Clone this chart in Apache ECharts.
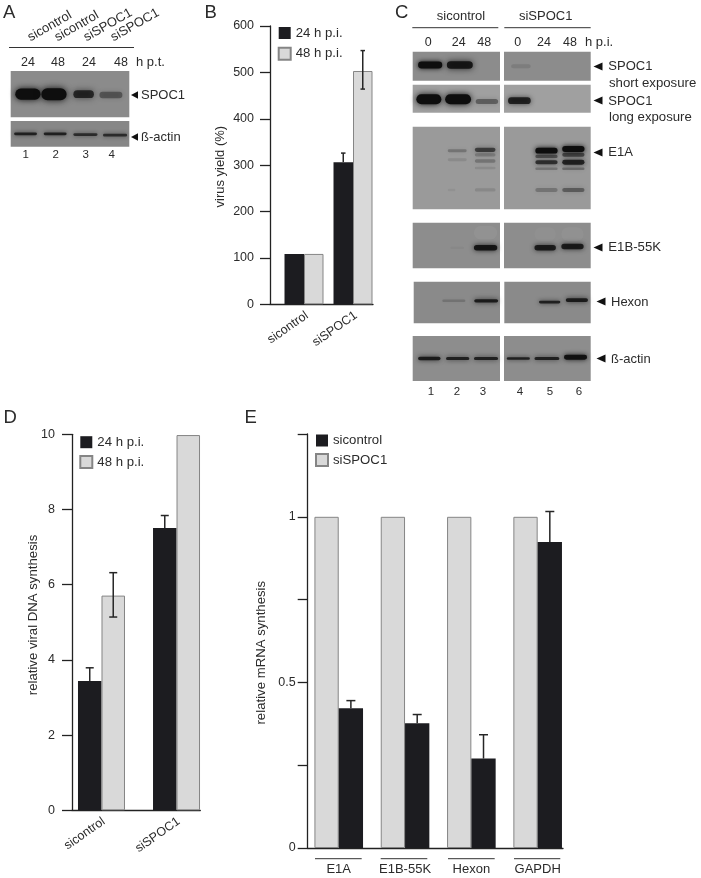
<!DOCTYPE html>
<html>
<head>
<meta charset="utf-8">
<style>html,body{margin:0;background:#fff}#main{width:701px;height:878px}</style>
<script src="https://cdn.jsdelivr.net/npm/echarts@6/dist/echarts.min.js"></script>
</head>
<body>
<div id="main"></div>
<script>
// panel B
const virusGroups = ["sicontrol", "siSPOC1"];
const virus24 = [108.6, 306.5];
const virus48 = [108.6, 503];
const virus24Err = [[2, 306.5, 326, 0]];
const virus48Err = [[2, 464, 547, 1]];

// panel D
const dnaGroups = ["sicontrol", "siSPOC1"];
const dna24 = [3.44, 7.51];
const dna48 = [5.71, 9.98];
const dna24Err = [[1, 3.44, 3.79, 0], [2, 7.51, 7.84, 0]];
const dna48Err = [[1, 5.14, 6.32, 1]];

// panel E
const mrnaGroups = ["E1A", "E1B-55K", "Hexon", "GAPDH"];
const mrnaSiSpoc = [1, 1, 1, 1];
const mrnaSicontrol = [0.422, 0.377, 0.27, 0.924];
const mrnaErr = [[1, 0.422, 0.445, 0], [2, 0.377, 0.403, 0], [3, 0.27, 0.342, 0], [4, 0.924, 1.016, 0]];

// blot bands: [x start %, x end %, y %, thickness %, darkness] (negative = paler smear)
const blotA1 = [[3, 26, 50, 24, 1], [25, 48, 50, 26, 1], [52, 71, 50, 17, 0.75], [74, 95, 52, 14, 0.4]];
const blotA2 = [[2, 23, 50, 11, 0.8], [27, 48, 50, 11, 0.8], [52, 74, 53, 11, 0.7], [77, 99, 55, 10, 0.7]];
const blotShortL = [[5, 35, 46, 24, 1], [38, 70, 46, 26, 0.9]];
const blotShortR = [[7, 32, 50, 14, 0.1]];
const blotLongL = [[3, 34, 52, 36, 1], [36, 68, 52, 36, 1], [71, 99, 60, 18, 0.4]];
const blotLongR = [[3.5, 32, 57, 24, 0.8]];
const blotE1aL = [[39, 63, 29, 3.6, 0.25], [39, 63, 40, 3.6, 0.1], [70, 96, 28, 5, 0.6], [70, 96, 34, 4, 0.2],
  [70, 96, 41.5, 4, 0.25], [70, 96, 50, 3, 0.1], [70, 96, 76.6, 4, 0.12], [39, 50, 76.6, 3, 0.06]];
const blotE1aR = [[35, 63, 29, 7, 1], [35, 63, 36, 4, 0.45], [35, 63, 43, 5, 0.7], [35, 63, 51, 3, 0.25], [35, 63, 76.6, 5, 0.25],
  [66, 94, 27, 7, 1], [66, 94, 34, 5, 0.55], [66, 94, 43, 6, 0.8], [66, 94, 51, 3, 0.3], [66, 94, 76.6, 5, 0.4]];
const blotE1bL = [[69, 98, 22, 30, -0.05], [42, 60, 55, 5, 0.04], [69, 98, 55, 12, 0.9]];
const blotE1bR = [[34, 61, 25, 30, -0.03], [65, 93, 25, 30, -0.04], [34, 61, 55, 12, 0.85], [65, 93, 52, 12, 0.85]];
const blotHexonL = [[32, 61, 46, 6, 0.18], [69, 99, 46, 8, 0.85]];
const blotHexonR = [[39, 66, 49, 7, 0.8], [70, 98, 44, 9, 0.85]];
const blotActinL = [[5, 33, 50, 8, 0.85], [37, 66, 50, 7, 0.8], [69, 99, 50, 7, 0.8]];
const blotActinR = [[2, 31, 50, 6, 0.8], [34, 65, 50, 7, 0.8], [68, 97, 47, 11, 0.95]];

const FONT = '"Liberation Sans", Arial, sans-serif';
const INK = "#2b2b2b";
const DARK = "#1c1c20";
const LIGHT = "#d9d9d9";
const EDGE = "#858585";

const grid = [], xAxis = [], yAxis = [], series = [], graphic = [];

function addBlot(left, top, width, height, bg, bands) {
  const i = grid.length;
  grid.push({ left, top, width, height, show: true, backgroundColor: bg, borderWidth: 0 });
  xAxis.push({ type: "value", gridIndex: i, min: 0, max: 100, show: false });
  yAxis.push({ type: "value", gridIndex: i, min: 0, max: 100, inverse: true, show: false });
  series.push({
    type: "custom", xAxisIndex: i, yAxisIndex: i, silent: true, data: bands,
    renderItem(params, api) {
      const a = api.coord([api.value(0), api.value(2)]);
      const b = api.coord([api.value(1), api.value(2)]);
      const h = api.size([0, api.value(3)])[1];
      const d = api.value(4);
      const fill = d < 0 ? `rgba(255,255,255,${-d})` : `rgba(14,14,14,${d})`;
      return {
        type: "rect",
        shape: { x: a[0] + 1, y: a[1] - h / 2, width: b[0] - a[0] - 2, height: h, r: h / 2 },
        style: { fill, shadowBlur: d < 0 ? 10 : 4 + h * 0.25, shadowColor: fill }
      };
    }
  });
}

function errorSeries(i, rows, side, barWidth, cap) {
  return {
    type: "custom", xAxisIndex: i, yAxisIndex: i, silent: true, z: 5, data: rows,
    renderItem(params, api) {
      const lo = api.coord([api.value(0), api.value(1)]);
      const hi = api.coord([api.value(0), api.value(2)]);
      const x = lo[0] + side * barWidth / 2;
      const style = { stroke: "#262626", lineWidth: 1.5, fill: null };
      const children = [
        { type: "line", shape: { x1: x, y1: lo[1], x2: x, y2: hi[1] }, style },
        { type: "line", shape: { x1: x - cap / 2, y1: hi[1], x2: x + cap / 2, y2: hi[1] }, style }
      ];
      if (api.value(3)) children.push({ type: "line", shape: { x1: x - cap / 2, y1: lo[1], x2: x + cap / 2, y2: lo[1] }, style });
      return { type: "group", children };
    }
  };
}

function barChart(o) {
  const i = grid.length;
  const shift = o.labelShift || 0;
  const slots = o.groups.map((g, k) => k + 1 + shift);
  grid.push({ left: o.left, top: o.top, width: o.width, height: o.height });
  xAxis.push({
    type: "value", gridIndex: i, min: o.xMin, max: o.xMax, position: "bottom",
    axisLine: { show: true, onZero: false, lineStyle: { color: "#222", width: 1.3 } },
    axisTick: { show: false }, splitLine: { show: false },
    axisLabel: {
      customValues: slots, rotate: o.rotate || 0, margin: o.xMargin, fontFamily: FONT, fontSize: o.rotate ? 12.5 : 13, color: INK,
      formatter: v => o.groups[Math.round(v - shift) - 1]
    }
  });
  yAxis.push({
    type: "value", gridIndex: i, min: 0, max: o.yMax, interval: o.yStep, position: "left",
    axisLine: { show: true, onZero: false, lineStyle: { color: "#222", width: 1.3 } },
    axisTick: { show: true, length: 10, lineStyle: { color: "#222", width: 1.3 } },
    splitLine: { show: false },
    axisLabel: { margin: o.yMargin, fontFamily: FONT, fontSize: 12.5, color: INK, customValues: o.yLabels }
  });
  o.bars.forEach(b => {
    series.push({
      type: "bar", name: b.name, xAxisIndex: i, yAxisIndex: i, barWidth: o.barWidth, barGap: "0%",
      data: b.values.map((v, k) => [k + 1, v]),
      itemStyle: b.dark ? { color: DARK } : { color: LIGHT, borderColor: EDGE, borderWidth: 1 }
    });
    if (b.err) series.push(errorSeries(i, b.err, b.side, o.barWidth, b.cap));
  });
}

function text(x, y, str, size, extra) {
  graphic.push(Object.assign({
    type: "text", x, y, silent: true,
    style: Object.assign({ text: str, fontFamily: FONT, fontSize: size, fill: INK, verticalAlign: "middle", align: "left" }, extra && extra.style)
  }, extra && extra.el));
}
function centered(x, y, str, size) { text(x, y, str, size, { style: { align: "center" } }); }
function rule(x1, x2, y) {
  graphic.push({ type: "line", silent: true, shape: { x1, y1: y, x2, y2: y }, style: { stroke: "#333", lineWidth: 1 } });
}
function arrow(x, y, w, h) {
  graphic.push({ type: "polygon", silent: true, shape: { points: [[x, y], [x + w, y - h / 2], [x + w, y + h / 2]] }, style: { fill: "#111" } });
}

// blots, panel A
addBlot(10.7, 71, 118.6, 46.3, "#8b8b8b", blotA1);
addBlot(10.7, 121, 118.6, 25.7, "#878787", blotA2);
// blots, panel C
addBlot(412.7, 51.7, 87.3, 29, "#8c8c8c", blotShortL);
addBlot(504, 51.7, 86.7, 29, "#8c8c8c", blotShortR);
addBlot(412.7, 84.7, 87.3, 28, "#a0a0a0", blotLongL);
addBlot(504, 84.7, 86.7, 28, "#a0a0a0", blotLongR);
addBlot(412.7, 126.7, 87.3, 82.6, "#9a9a9a", blotE1aL);
addBlot(504, 126.7, 86.7, 82.6, "#9a9a9a", blotE1aR);
addBlot(412.7, 222.7, 87.3, 45.6, "#8d8d8d", blotE1bL);
addBlot(504, 222.7, 86.7, 45.6, "#8d8d8d", blotE1bR);
addBlot(413.7, 281.7, 86.3, 41.6, "#8a8a8a", blotHexonL);
addBlot(504.3, 281.7, 86.4, 41.6, "#8a8a8a", blotHexonR);
addBlot(412.7, 336, 87.3, 45, "#8d8d8d", blotActinL);
addBlot(504, 336, 86.7, 45, "#8d8d8d", blotActinR);

barChart({
  left: 270, top: 26, width: 103, height: 278.3, xMin: 0.306, xMax: 2.408, yMax: 600, yStep: 100,
  groups: virusGroups, barWidth: 19.5, rotate: 35, xMargin: 10, yMargin: 16, labelShift: 0.06,
  bars: [
    { name: "24 h p.i.", values: virus24, dark: true, err: virus24Err, side: -1, cap: 4.5 },
    { name: "48 h p.i.", values: virus48, err: virus48Err, side: 1, cap: 4.5 }
  ]
});
barChart({
  left: 72, top: 434.3, width: 128.3, height: 376, xMin: 0.607, xMax: 2.317, yMax: 10, yStep: 2,
  groups: dnaGroups, barWidth: 23.5, rotate: 35, xMargin: 10, yMargin: 17, labelShift: 0.03,
  bars: [
    { name: "24 h p.i.", values: dna24, dark: true, err: dna24Err, side: -1, cap: 8 },
    { name: "48 h p.i.", values: dna48, err: dna48Err, side: 1, cap: 8 }
  ]
});
barChart({
  left: 307.7, top: 434, width: 255.3, height: 414, xMin: 0.532, xMax: 4.382, yMax: 1.25, yStep: 0.25,
  groups: mrnaGroups, barWidth: 24.3, xMargin: 15, yMargin: 12, yLabels: [0, 0.5, 1],
  bars: [
    { name: "siSPOC1", values: mrnaSiSpoc },
    { name: "sicontrol", values: mrnaSicontrol, dark: true, err: mrnaErr, side: 1, cap: 9 }
  ]
});

// y axis titles
text(220, 166.7, "virus yield (%)", 13, { style: { align: "center" }, el: { rotation: Math.PI / 2 } });
text(33, 615, "relative viral DNA synthesis", 13.2, { style: { align: "center" }, el: { rotation: Math.PI / 2 } });
text(261.7, 652.7, "relative mRNA synthesis", 13.2, { style: { align: "center" }, el: { rotation: Math.PI / 2 } });

// panel letters
text(3, 12.5, "A", 18.5);
text(204.5, 12.5, "B", 18.5);
text(395, 12.5, "C", 18.5);
text(3.5, 417.5, "D", 18.5);
text(244.5, 417.5, "E", 18.5);

// panel A annotations
[[32, "sicontrol"], [59, "sicontrol"], [88, "siSPOC1"], [115, "siSPOC1"]].forEach(([x, s]) => {
  text(x, 44, s, 13, { style: { verticalAlign: "bottom" }, el: { rotation: 0.52 } });
});
rule(9, 134, 47.5);
centered(28, 62.3, "24", 12.5);
centered(58, 62.3, "48", 12.5);
centered(89, 62.3, "24", 12.5);
centered(121, 62.3, "48", 12.5);
text(136, 62.3, "h p.t.", 13);
arrow(131, 95, 7, 7.5); text(141, 95.5, "SPOC1", 13);
arrow(131, 137, 7, 7.5); text(141, 137, "ß-actin", 13);
centered(25.7, 154.5, "1", 11.5);
centered(55.7, 154.5, "2", 11.5);
centered(85.7, 154.5, "3", 11.5);
centered(111.7, 154.5, "4", 11.5);

// panel C annotations
centered(461, 16.7, "sicontrol", 13);
centered(545.7, 16.7, "siSPOC1", 13);
rule(412.3, 498.3, 27.7);
rule(504.3, 590.7, 27.7);
centered(428.3, 42.7, "0", 12.5);
centered(458.7, 42.7, "24", 12.5);
centered(484.3, 42.7, "48", 12.5);
centered(517.7, 42.7, "0", 12.5);
centered(544, 42.7, "24", 12.5);
centered(570, 42.7, "48", 12.5);
text(585, 42.7, "h p.i.", 13);
arrow(593.5, 66.5, 9, 8); text(608.3, 66.7, "SPOC1", 13);
text(609, 83.3, "short exposure", 13.2);
arrow(593.5, 100.5, 9, 8); text(608.3, 101, "SPOC1", 13);
text(609, 117.3, "long exposure", 13.2);
arrow(593.5, 152.5, 9, 8); text(608.3, 152.7, "E1A", 13);
arrow(593.5, 247.5, 9, 8); text(608.3, 247.7, "E1B-55K", 13.2);
arrow(596.5, 301.5, 9, 8); text(611, 302, "Hexon", 13);
arrow(596.5, 358.5, 9, 8); text(611, 359, "ß-actin", 13);
[[431, "1"], [457, "2"], [483, "3"], [520, "4"], [550, "5"], [579, "6"]].forEach(([x, s]) => centered(x, 392, s, 11.5));

// panel E group rules
rule(315, 361.7, 858.7);
rule(380.7, 427.3, 858.7);
rule(448, 494.7, 858.7);
rule(514, 560.3, 858.7);

function legendAt(left, top, gap, names) {
  return {
    left, top, orient: "vertical", padding: 0, itemWidth: 12, itemHeight: 12, itemGap: gap,
    selectedMode: false, data: names, icon: "rect",
    textStyle: { fontFamily: FONT, fontSize: 13.2, lineHeight: 12, color: INK }
  };
}

const chart = echarts.init(document.getElementById("main"), null, { renderer: "canvas" });
chart.setOption({
  backgroundColor: "#fff",
  animation: false,
  tooltip: { show: false },
  legend: [
    legendAt(277.7, 26.5, 7.3, ["24 h p.i.", "48 h p.i."]),
    legendAt(79.3, 435.7, 6.3, ["24 h p.i.", "48 h p.i."]),
    legendAt(315, 434, 6, ["sicontrol", "siSPOC1"])
  ],
  grid, xAxis, yAxis, series, graphic
});
</script>
</body>
</html>
